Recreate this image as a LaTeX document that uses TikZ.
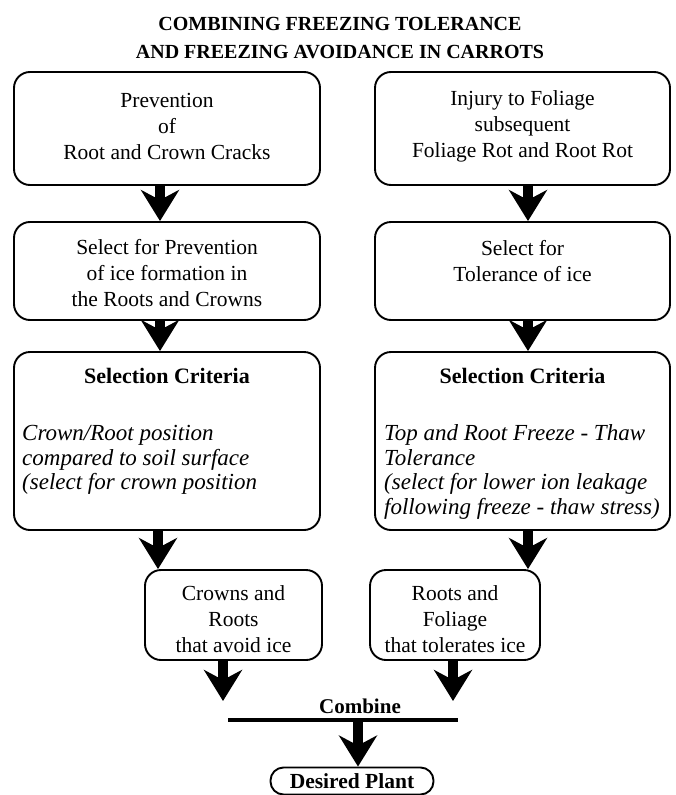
\documentclass[tikz,border=0pt]{standalone}
\usepackage{fontspec}
\setmainfont{Liberation Serif}
\usetikzlibrary{arrows.meta}
\begin{document}
\begin{tikzpicture}[x=1pt,y=-1pt,
  box/.style={draw, line width=1.9pt, rounded corners=16pt, inner sep=0pt},
  txt/.style={font=\fontsize{21.5}{26}\selectfont, align=center, inner sep=0pt},
  itx/.style={font=\fontsize{23}{24.5}\selectfont\itshape, align=left, inner sep=0pt, anchor=west},
  hdr/.style={font=\fontsize{22}{26}\selectfont\bfseries, inner sep=0pt},
  ttl/.style={font=\fontsize{20}{28}\selectfont\bfseries, align=center, inner sep=0pt},
  fat/.style={line width=10pt, -{Stealth[length=31pt,width=38pt,inset=10pt]}},
]
\useasboundingbox (0,0) rectangle (675,795);

% title
\node[ttl] (title) at (340,38) {COMBINING FREEZING TOLERANCE\\AND FREEZING AVOIDANCE IN CARROTS};

% column coordinates
\coordinate (xa) at (160,0);
\coordinate (xb) at (528,0);
\coordinate (xa3) at (158,0);
\coordinate (xc1) at (223,0);
\coordinate (xc2) at (453,0);

% row 1
\node[box, minimum width=306pt, minimum height=113pt] (a1) at (167,128.5) {};
\node[box, minimum width=295pt, minimum height=113pt] (b1) at (522.5,128.5) {};
\node[txt] (a1t) at (167,126) {Prevention\\of\\Root and Crown Cracks};
\node[txt] (b1t) at (522.5,126) {Injury to Foliage\\subsequent\\Foliage Rot and Root Rot};

% row 2
\node[box, minimum width=306pt, minimum height=98pt] (a2) at (167,271) {};
\node[box, minimum width=295pt, minimum height=98pt] (b2) at (522.5,271) {};
\node[txt] (a2t) at (167,273) {Select for Prevention\\of ice formation in\\the Roots and Crowns};
\node[txt] (b2t) at (522.5,261) {Select for\\Tolerance of ice};

% row 3
\node[box, minimum width=306pt, minimum height=178pt] (a3) at (167,441) {};
\node[box, minimum width=295pt, minimum height=178pt] (b3) at (522.5,441) {};
\node[hdr] (a3h) at (167,376) {Selection Criteria};
\node[hdr] (b3h) at (522.5,376) {Selection Criteria};
\node[itx] (a3t) at (22,460) {Crown/Root position\\compared to soil surface\\(select for crown position};
\node[itx] (b3t) at (384,472) {Top and Root Freeze - Thaw\\Tolerance\\(select for lower ion leakage\\following freeze - thaw stress)};

% row 4
\node[box, minimum width=177pt, minimum height=90pt] (c1) at (233.5,615) {};
\node[box, minimum width=170pt, minimum height=90pt] (c2) at (455,615) {};
\node[txt] (c1t) at (233.5,619) {Crowns and\\Roots\\that avoid ice};
\node[txt] (c2t) at (455,619) {Roots and\\Foliage\\that tolerates ice};

% combine
\coordinate (t1) at (223,701);
\coordinate (t2) at (453,701);
\node[hdr, font=\fontsize{21}{26}\selectfont\bfseries] (comb) at (360,706) {Combine};
\coordinate (cl) at (228,720);
\coordinate (cr) at (458,720);
\coordinate (cm) at (358,722);
\draw[line width=3.5pt] (cl) -- (cr);

% desired plant
\node[draw, line width=1.9pt, rounded corners=13pt, minimum width=163pt, minimum height=27pt, inner sep=0pt,
      font=\fontsize{21.5}{26}\selectfont\bfseries] (dp) at (352,781) {Desired Plant};

% arrows
\draw[fat] (a1.south -| xa) -- (a2.north -| xa);
\draw[fat] (b1.south -| xb) -- (b2.north -| xb);
\draw[fat] (a2.south -| xa) -- (a3.north -| xa);
\draw[fat] (b2.south -| xb) -- (b3.north -| xb);
\draw[fat] (a3.south -| xa3) -- (c1.north -| xa3);
\draw[fat] (b3.south -| xb) -- (c2.north -| xb);
\draw[fat] (c1.south -| xc1) -- (t1);
\draw[fat] (c2.south -| xc2) -- (t2);
\draw[fat] (cm) -- (dp.north -| cm);
\end{tikzpicture}
\end{document}
